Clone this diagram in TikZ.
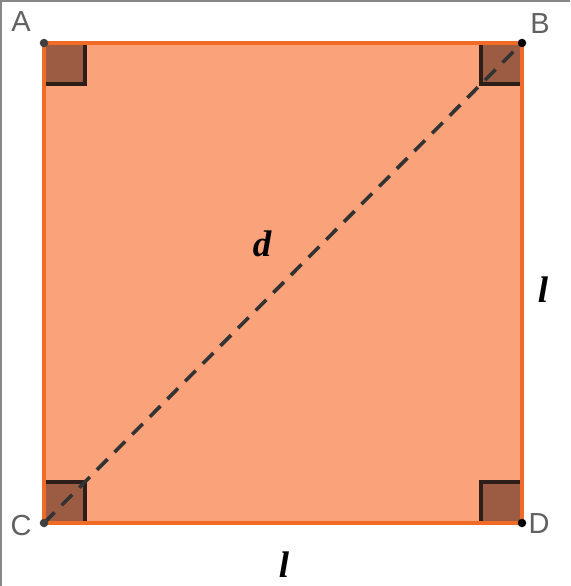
\documentclass[tikz,border=0pt]{standalone}
\usepackage{fontspec}
\setmainfont{Liberation Serif}
\setsansfont{Liberation Sans}
\usetikzlibrary{positioning}
\definecolor{sqfill}{RGB}{250,162,122}
\definecolor{sqedge}{RGB}{240,108,38}
\definecolor{markfill}{RGB}{156,92,68}
\definecolor{markedge}{RGB}{45,30,25}
\definecolor{framegray}{RGB}{135,135,135}

\begin{document}
\begin{tikzpicture}[x=1pt, y=-1pt,
  vertex/.style={circle, fill=black, inner sep=0pt, minimum size=8.5pt},
  ptlabel/.style={font=\sffamily\fontsize{29}{29}\selectfont, text=black!62},
  sidelabel/.style={font=\bfseries\itshape\fontsize{37}{37}\selectfont},
  markline/.style={draw=markedge, line width=3.4pt},
]
\useasboundingbox (0,0) rectangle (570,586);

% Frame
\draw[framegray, line width=1.5pt] (1,586) -- (1,1) -- (570,1);

% Corners of the square
\coordinate (A) at (44,43);
\coordinate (B) at (522,43);
\coordinate (C) at (44,523);
\coordinate (D) at (522,523);

% Square
\fill[sqfill] (A) -- (B) -- (D) -- (C) -- cycle;

% Right-angle marks
\foreach \corner/\sx/\sy in {A/1/1, B/-1/1, C/1/-1, D/-1/-1}{
  \begin{scope}[shift={(\corner)}, xscale=\sx, yscale=\sy]
    \fill[markfill] (0,0) rectangle (41,41);
    \draw[markline] (41,0) -- (41,41) -- (0,41);
  \end{scope}
}

\draw[sqedge, line width=3.8pt, line join=miter] (A) -- (B) -- (D) -- (C) -- cycle;

% Diagonal
\draw[black!80, line width=3.6pt, dash pattern=on 15pt off 10pt] (C) -- (B);

% Vertices
\node[vertex, fill=black!75] (vA) at (A) {};
\node[vertex] (vB) at (B) {};
\node[vertex, fill=black!75] (vC) at (C) {};
\node[vertex] (vD) at (D) {};

% Labels
\node[ptlabel] (lA) at (21,22) {A};
\node[ptlabel] (lB) at (540,24) {B};
\node[ptlabel] (lC) at (21,526) {C};
\node[ptlabel] (lD) at (539,524) {D};

\node[sidelabel] (ld) at (262,244) {d};
\node[sidelabel] (lr) at (543,290) {l};
\node[sidelabel] (lb) at (284,565) {l};

\end{tikzpicture}
\end{document}
